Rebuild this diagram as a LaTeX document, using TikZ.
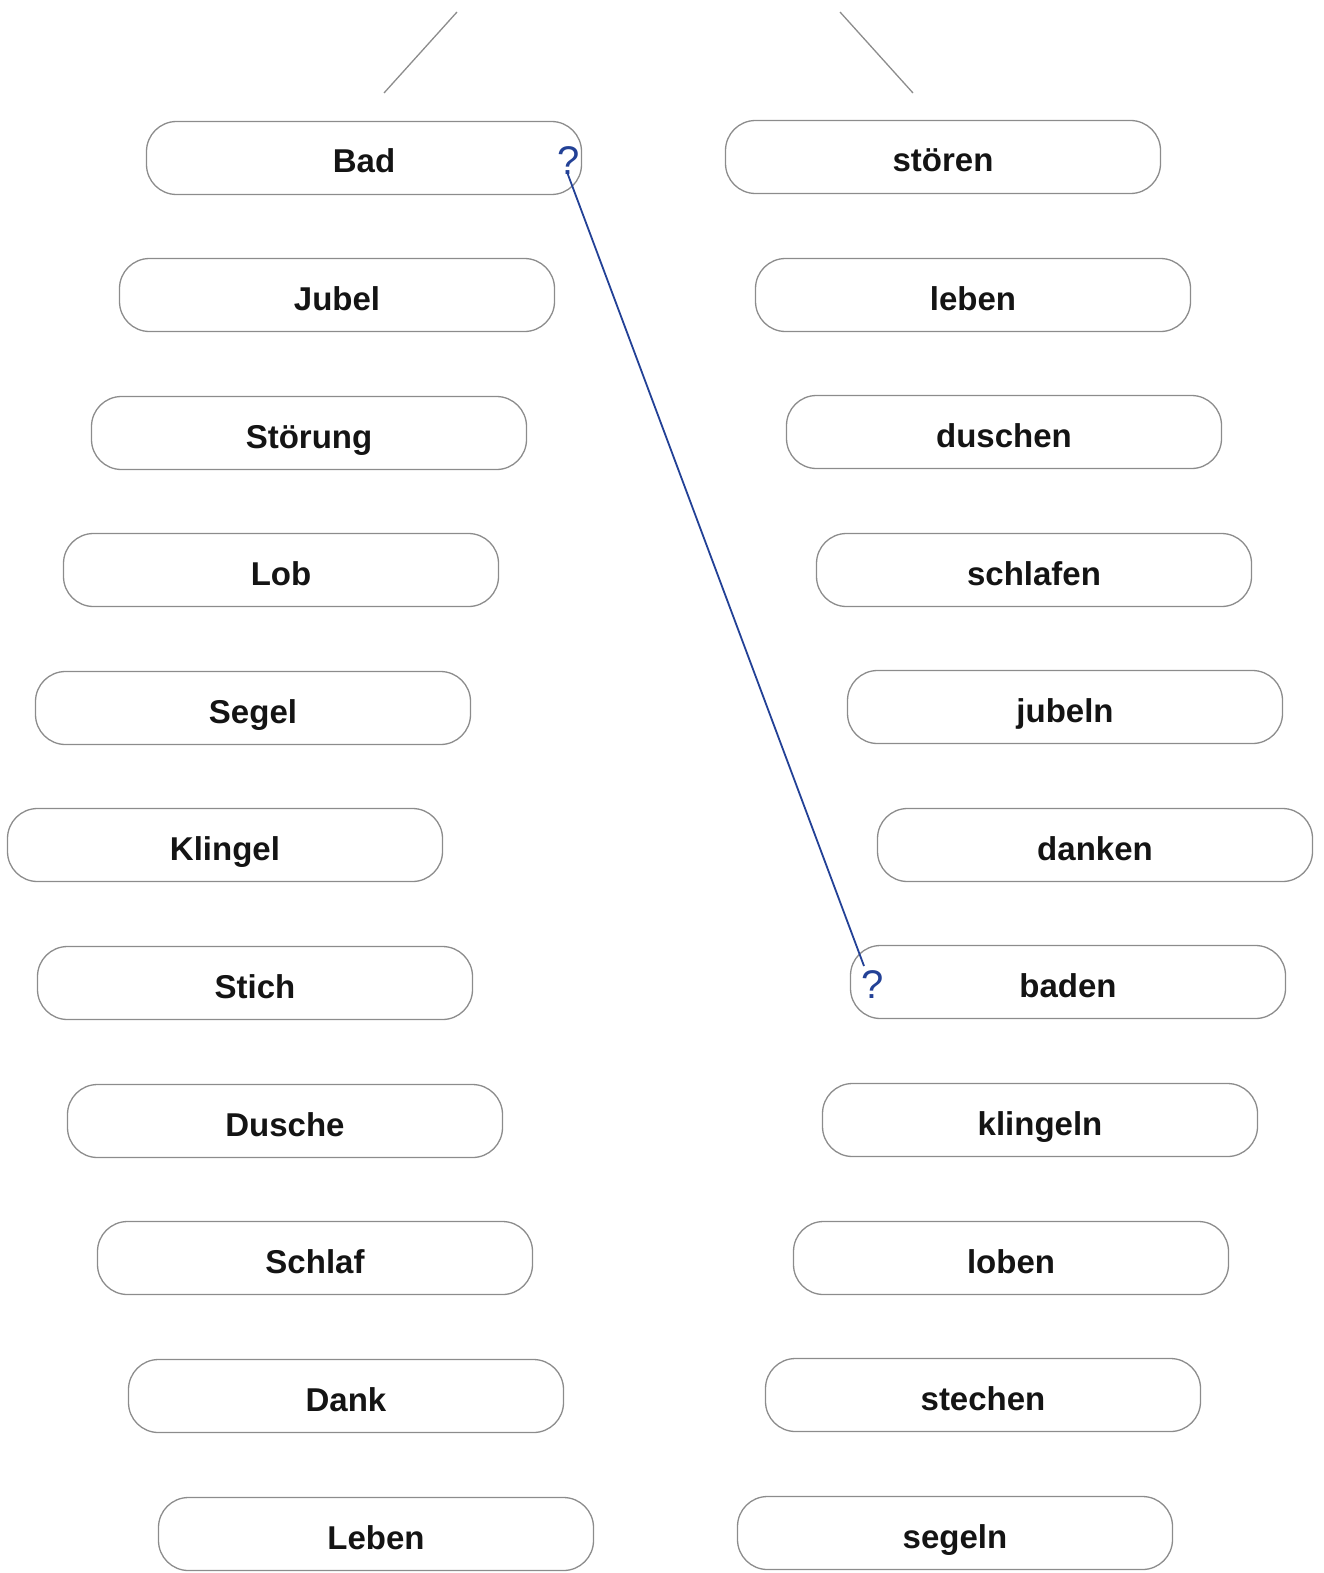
\documentclass[tikz,border=0pt]{standalone}
\usepackage{fontspec}
\setmainfont{Liberation Sans}
\definecolor{pen}{RGB}{35,65,150}
\begin{document}
\begin{tikzpicture}[x=1pt,y=-1pt,
  wbox/.style={draw=black!45,line width=1.3pt,rounded corners=30pt,minimum width=435pt,minimum height=73pt,inner sep=0pt,text height=30pt,text depth=0pt,font=\fontsize{33}{36}\selectfont\bfseries,text=black!92},
  tick/.style={draw=black!45,line width=1.3pt},
  qm/.style={text=pen,font=\fontsize{40}{44}\selectfont,inner sep=0pt},
  link/.style={draw=pen,line width=1.8pt}]
\useasboundingbox (0,0) rectangle (1323,1573);
% left column
\node[wbox] (l1) at (364,158) {Bad};
\node[wbox] (l2) at (337,295) {Jubel};
\node[wbox] (l3) at (309,433) {Störung};
\node[wbox] (l4) at (281,570) {Lob};
\node[wbox] (l5) at (253,708) {Segel};
\node[wbox] (l6) at (225,845) {Klingel};
\node[wbox] (l7) at (255,983) {Stich};
\node[wbox] (l8) at (285,1121) {Dusche};
\node[wbox] (l9) at (315,1258) {Schlaf};
\node[wbox] (l10) at (346,1396) {Dank};
\node[wbox] (l11) at (376,1534) {Leben};
% right column
\node[wbox] (r1) at (943,157) {stören};
\node[wbox] (r2) at (973,295) {leben};
\node[wbox] (r3) at (1004,432) {duschen};
\node[wbox] (r4) at (1034,570) {schlafen};
\node[wbox] (r5) at (1065,707) {jubeln};
\node[wbox] (r6) at (1095,845) {danken};
\node[wbox] (r7) at (1068,982) {baden};
\node[wbox] (r8) at (1040,1120) {klingeln};
\node[wbox] (r9) at (1011,1258) {loben};
\node[wbox] (r10) at (983,1395) {stechen};
\node[wbox] (r11) at (955,1533) {segeln};
% top strokes
\coordinate (ta) at (457,12);
\coordinate (tb) at (384,93);
\coordinate (tc) at (840,12);
\coordinate (td) at (913,93);
\draw[tick] (ta) -- (tb);
\draw[tick] (tc) -- (td);
% question marks and link
\node[qm] (q1) at (569,161) {?};
\node[qm] (q2) at (873,985) {?};
\coordinate (qa) at (567,172);
\coordinate (qb) at (864,966);
\draw[link] (qa) -- (qb);
\end{tikzpicture}
\end{document}
